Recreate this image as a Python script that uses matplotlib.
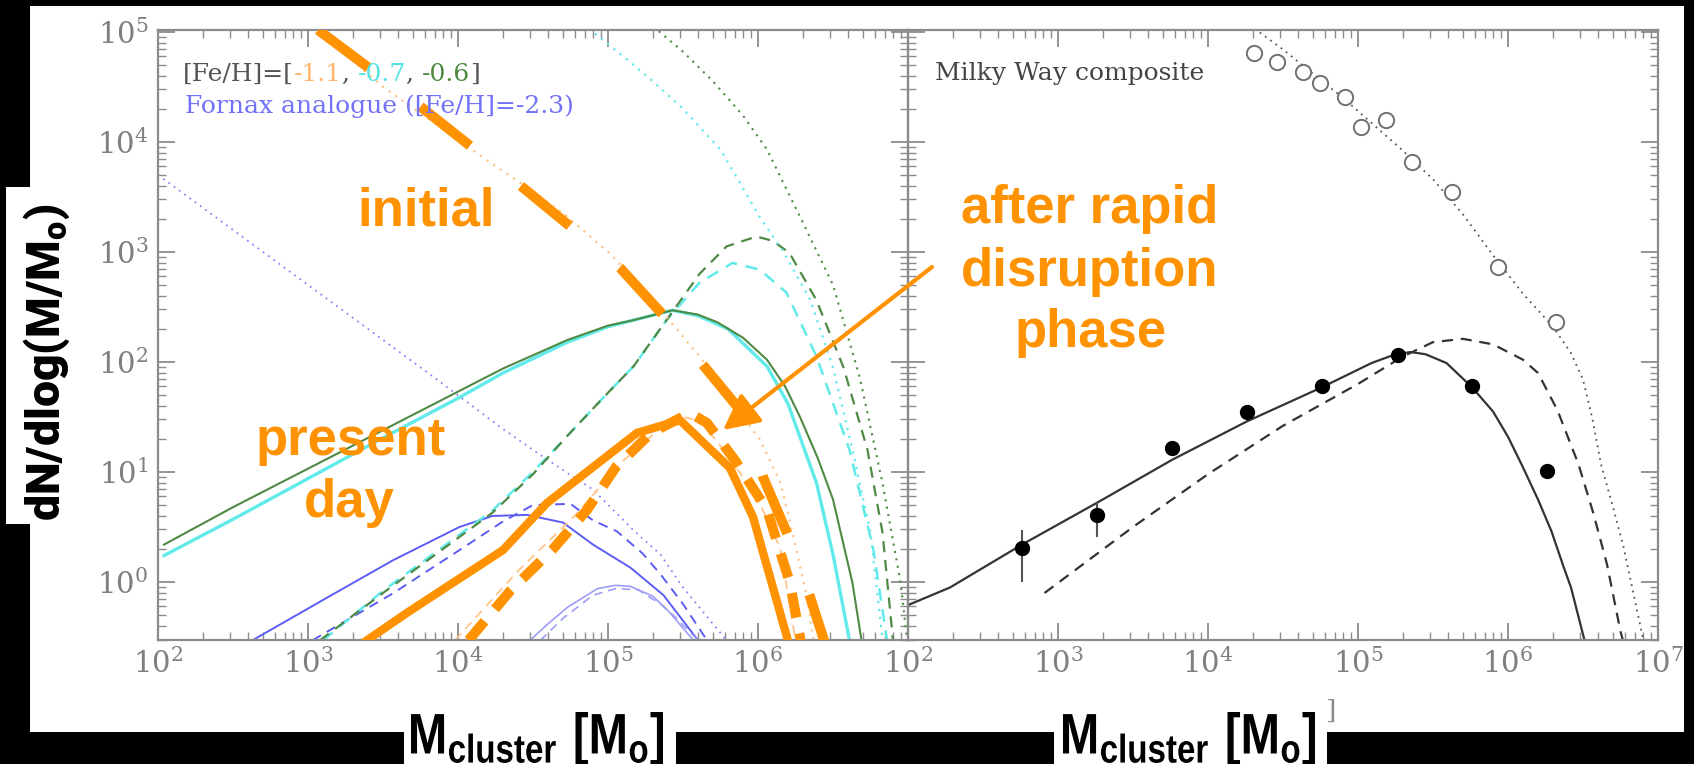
import numpy as np
import matplotlib
matplotlib.use("Agg")
import matplotlib.pyplot as plt
from matplotlib.patches import Rectangle, FancyArrowPatch, PathPatch
from matplotlib.ticker import FixedLocator, FixedFormatter, LogLocator, NullFormatter
from matplotlib.textpath import TextPath
from matplotlib.font_manager import FontProperties
from matplotlib.transforms import Affine2D, IdentityTransform

W, H = 1694, 764

plt.rcParams["font.family"] = "DejaVu Serif"
plt.rcParams["mathtext.fontset"] = "dejavuserif"
plt.rcParams["mathtext.bf"] = "Roboto:black"
plt.rcParams["mathtext.sf"] = "Liberation Sans:bold"

# ---------------------------------------------------------------- data
# all curves given as (log10 M, log10 dN/dlogM)

# [Fe/H] = -0.6 (green)
green_solid_logm = [2.04, 2.5, 3.0, 3.5, 4.0, 4.3, 4.73, 5.0, 5.17, 5.43, 5.6, 5.73, 5.9, 6.06, 6.18, 6.28, 6.4, 6.5, 6.63, 6.69, 6.72]
green_solid_logn = [0.34, 0.68, 1.03, 1.38, 1.73, 1.94, 2.2, 2.33, 2.38, 2.47, 2.43, 2.36, 2.22, 2.02, 1.78, 1.5, 1.12, 0.75, -0.01, -0.53, -0.8]
green_dash_logm = [3.08, 3.5, 4.0, 4.23, 4.5, 4.73, 5.0, 5.17, 5.39, 5.61, 5.79, 5.99, 6.1, 6.21, 6.39, 6.57, 6.73, 6.83, 6.9, 6.93]
green_dash_logn = [-0.53, -0.1, 0.4, 0.63, 0.98, 1.33, 1.72, 1.96, 2.38, 2.8, 3.05, 3.14, 3.1, 2.99, 2.56, 1.95, 1.2, 0.45, -0.53, -0.8]
green_dot_logm = [5.3, 5.5, 5.7, 5.9, 6.06, 6.28, 6.5, 6.68, 6.83, 6.95, 7.0]
green_dot_logn = [5.05, 4.82, 4.55, 4.24, 3.93, 3.32, 2.7, 1.85, 0.9, 0.0, -0.6]

# [Fe/H] = -0.7 (cyan)
cyan_solid_logm = [2.04, 2.5, 3.0, 3.5, 4.0, 4.3, 4.73, 5.0, 5.17, 5.43, 5.6, 5.8, 6.06, 6.2, 6.39, 6.5, 6.61, 6.65]
cyan_solid_logn = [0.24, 0.57, 0.94, 1.31, 1.67, 1.9, 2.18, 2.32, 2.38, 2.47, 2.42, 2.3, 1.96, 1.62, 0.9, 0.25, -0.53, -0.8]
cyan_dash_logm = [3.1, 3.5, 4.0, 4.23, 4.5, 4.73, 5.0, 5.17, 5.39, 5.61, 5.83, 6.01, 6.19, 6.39, 6.61, 6.77, 6.86, 6.89]
cyan_dash_logn = [-0.53, -0.08, 0.42, 0.65, 1.0, 1.33, 1.72, 1.96, 2.38, 2.72, 2.9, 2.84, 2.63, 2.05, 1.2, 0.29, -0.53, -0.8]
cyan_dot_logm = [4.87, 5.1, 5.3, 5.5, 5.75, 6.01, 6.17, 6.35, 6.5, 6.63, 6.75, 6.83, 6.86]
cyan_dot_logn = [5.03, 4.78, 4.55, 4.3, 3.93, 3.32, 3.0, 2.56, 1.95, 1.2, 0.45, -0.53, -0.8]

# [Fe/H] = -1.1 (orange)
orange_dot_logm = [3.05, 3.5, 4.0, 4.26, 4.5, 4.73, 5.0, 5.2, 5.39, 5.61, 5.83, 6.01, 6.15, 6.23, 6.33, 6.37, 6.4]
orange_dot_logn = [5.03, 4.5, 4.02, 3.77, 3.55, 3.32, 3.0, 2.72, 2.41, 2.05, 1.63, 1.3, 0.9, 0.45, -0.16, -0.53, -0.8]
orange_dash_logm = [3.98, 4.4, 4.77, 5.1, 5.35, 5.5, 5.62, 5.8, 6.0, 6.15, 6.25, 6.28]
orange_dash_logn = [-0.53, 0.1, 0.59, 1.1, 1.4, 1.5, 1.46, 1.15, 0.75, 0.3, -0.53, -0.8]

# Fornax analogue, [Fe/H] = -2.3 (blue)
blue_solid_logm = [2.63, 3.13, 3.57, 4.01, 4.23, 4.46, 4.7, 4.9, 5.15, 5.37, 5.6, 5.64]
blue_solid_logn = [-0.53, -0.14, 0.2, 0.5, 0.6, 0.61, 0.54, 0.34, 0.13, -0.12, -0.53, -0.6]
blue_dash_logm = [3.03, 3.57, 4.01, 4.3, 4.5, 4.75, 4.9, 5.06, 5.23, 5.35, 5.5, 5.66, 5.7]
blue_dash_logn = [-0.53, -0.1, 0.29, 0.55, 0.7, 0.71, 0.56, 0.46, 0.26, 0.07, -0.2, -0.53, -0.6]
blue_dot_logm = [2.0, 2.5, 3.0, 3.5, 3.86, 4.28, 4.5, 4.73, 4.9, 5.17, 5.35, 5.5, 5.79, 5.83]
blue_dot_logn = [3.7, 3.2, 2.7, 2.2, 1.84, 1.41, 1.2, 0.99, 0.84, 0.47, 0.25, -0.05, -0.53, -0.6]
hump_solid_logm = [4.48, 4.6, 4.73, 4.93, 5.05, 5.15, 5.3, 5.4, 5.57, 5.6]
hump_solid_logn = [-0.53, -0.38, -0.23, -0.06, -0.03, -0.04, -0.13, -0.26, -0.53, -0.6]
hump_dash_logm = [4.55, 4.7, 4.9, 5.05, 5.2, 5.35, 5.45, 5.6, 5.63]
hump_dash_logn = [-0.53, -0.33, -0.12, -0.06, -0.07, -0.2, -0.32, -0.53, -0.6]

# hand-traced highlight curves
initial_logm = [3.067, 3.753, 4.427, 4.76, 5.08, 5.367, 5.633, 5.88, 6.033, 6.193, 6.347, 6.433, 6.48]
initial_logn = [5.018, 4.318, 3.591, 3.218, 2.855, 2.427, 1.973, 1.564, 0.955, 0.445, -0.136, -0.5, -0.71]
present_logm = [3.393, 3.66, 4.3, 4.593, 5.193, 5.48, 5.813, 5.967, 6.193, 6.22]
present_logn = [-0.53, -0.28, 0.29, 0.718, 1.355, 1.47, 1.036, 0.59, -0.5, -0.65]
rapid_logm = [4.07, 4.353, 4.627, 4.86, 5.053, 5.287, 5.547, 5.66, 5.85, 6.06, 6.213, 6.28, 6.3]
rapid_logn = [-0.53, -0.073, 0.29, 0.655, 1.045, 1.355, 1.536, 1.445, 1.1, 0.655, -0.009, -0.5, -0.65]

# Milky Way composite
mw_solid_logm = [2.0, 2.28, 2.76, 3.26, 3.76, 4.26, 4.76, 5.09, 5.25, 5.35, 5.45, 5.59, 5.76, 5.9, 6.0, 6.09, 6.2, 6.29, 6.37, 6.42, 6.51, 6.54]
mw_solid_logn = [-0.21, -0.05, 0.34, 0.72, 1.11, 1.46, 1.77, 1.99, 2.07, 2.09, 2.07, 1.99, 1.77, 1.55, 1.32, 1.07, 0.75, 0.46, 0.14, -0.05, -0.53, -0.7]
mw_dash_logm = [2.91, 3.5, 4.0, 4.5, 5.0, 5.3, 5.5, 5.7, 5.9, 6.1, 6.2, 6.33, 6.47, 6.57, 6.66, 6.75, 6.78]
mw_dash_logn = [-0.1, 0.5, 0.98, 1.42, 1.8, 2.05, 2.18, 2.21, 2.16, 2.02, 1.9, 1.56, 1.07, 0.62, 0.16, -0.45, -0.6]
mw_dot_logm = [4.31, 4.5, 4.7, 4.9, 5.1, 5.3, 5.5, 5.7, 5.9, 6.1, 6.3, 6.42, 6.5, 6.56, 6.62, 6.7, 6.77, 6.89, 6.93]
mw_dot_logn = [5.03, 4.84, 4.62, 4.4, 4.16, 3.92, 3.66, 3.34, 2.97, 2.62, 2.32, 2.08, 1.84, 1.5, 1.07, 0.68, 0.32, -0.45, -0.7]
mw_open_logm = [4.309, 4.461, 4.63, 4.749, 4.911, 5.019, 5.187, 5.363, 5.626, 5.93, 6.318]
mw_open_logn = [4.809, 4.727, 4.636, 4.536, 4.409, 4.136, 4.2, 3.818, 3.545, 2.864, 2.364]
mw_filled_logm = [2.757, 3.263, 3.763, 4.259, 4.759, 5.265, 5.761, 6.26]
mw_filled_logn = [0.306, 0.609, 1.215, 1.548, 1.782, 2.064, 1.782, 1.009]
mw_filled_lo = [0.0, 0.409, 1.215, 1.548, 1.782, 2.064, 1.782, 1.009]
mw_filled_hi = [0.473, 0.718, 1.215, 1.548, 1.782, 2.064, 1.782, 1.009]

x_ticks = [1e2, 1e3, 1e4, 1e5, 1e6, 1e7]
x_labels_left = [r"$\mathdefault{10^{2}}$", r"$\mathdefault{10^{3}}$", r"$\mathdefault{10^{4}}$",
                 r"$\mathdefault{10^{5}}$", r"$\mathdefault{10^{6}}$", ""]
x_labels_right = [r"$\mathdefault{10^{2}}$", r"$\mathdefault{10^{3}}$", r"$\mathdefault{10^{4}}$",
                  r"$\mathdefault{10^{5}}$", r"$\mathdefault{10^{6}}$", r"$\mathdefault{10^{7}}$"]
y_ticks = [1e0, 1e1, 1e2, 1e3, 1e4, 1e5]
y_labels = [r"$\mathdefault{10^{0}}$", r"$\mathdefault{10^{1}}$", r"$\mathdefault{10^{2}}$",
            r"$\mathdefault{10^{3}}$", r"$\mathdefault{10^{4}}$", r"$\mathdefault{10^{5}}$"]

# ---------------------------------------------------------------- style
ORANGE = "#ff9200"
GREEN = "#4f8a45"
CYAN = "#62eaea"
LORANGE = "#ffc48a"
BLUE = "#5c5cf5"
LBLUE = "#9d9dfa"
GRAYAX = "#8c8c8c"
DASH = (0, (5, 3.5))
DOT = (0, (1, 2.6))


def fx(x):
    return x / W


def fy(y):
    return 1 - y / H


def arr(v):
    return 10 ** np.asarray(v, dtype=float)


fig = plt.figure(figsize=(W / 100, H / 100), dpi=100, facecolor="black")

# page and label panels
for (x0, y0, x1, y1) in [(30, 6, 1684, 732), (6, 187, 46, 524), (404, 700, 676, 764), (1054, 700, 1327, 764)]:
    fig.patches.append(Rectangle((fx(x0), fy(y1)), (x1 - x0) / W, (y1 - y0) / H,
                                 transform=fig.transFigure, facecolor="white",
                                 edgecolor="none", zorder=-5))

ax1 = fig.add_axes([fx(158), fy(640), 750 / W, 610 / H])
ax2 = fig.add_axes([fx(908), fy(640), 750 / W, 610 / H])

for ax, xl in ((ax1, x_labels_left), (ax2, x_labels_right)):
    ax.set_facecolor("none")
    ax.set_xscale("log")
    ax.set_yscale("log")
    ax.set_xlim(1e2, 1e7)
    ax.set_ylim(0.297, 1.04e5)
    for s in ax.spines.values():
        s.set_color(GRAYAX)
        s.set_linewidth(1.6)
    ax.xaxis.set_major_locator(FixedLocator(x_ticks))
    ax.xaxis.set_major_formatter(FixedFormatter(xl))
    ax.xaxis.set_minor_locator(LogLocator(base=10, subs=range(2, 10), numticks=30))
    ax.xaxis.set_minor_formatter(NullFormatter())
    ax.yaxis.set_major_locator(FixedLocator(y_ticks))
    ax.yaxis.set_major_formatter(FixedFormatter(y_labels))
    ax.yaxis.set_minor_locator(LogLocator(base=10, subs=range(2, 10), numticks=30))
    ax.yaxis.set_minor_formatter(NullFormatter())
    ax.tick_params(which="both", direction="in", top=True, right=True,
                   color=GRAYAX, labelcolor="#7f7f7f", labelsize=21)
    ax.tick_params(which="major", length=12, width=1.3)
    ax.tick_params(which="minor", length=6, width=1.0)
    ax.tick_params(axis="x", pad=6)
    ax.tick_params(axis="y", pad=7)

ax2.tick_params(axis="y", labelleft=False)

# ---- left panel curves
ax1.plot(arr(blue_dot_logm), arr(blue_dot_logn), color="#8585fa", lw=1.3, ls=DOT)
ax1.plot(arr(blue_solid_logm), arr(blue_solid_logn), color=BLUE, lw=1.4)
ax1.plot(arr(blue_dash_logm), arr(blue_dash_logn), color=BLUE, lw=1.4, ls=DASH)
ax1.plot(arr(hump_solid_logm), arr(hump_solid_logn), color=LBLUE, lw=1.2)
ax1.plot(arr(hump_dash_logm), arr(hump_dash_logn), color=LBLUE, lw=1.2, ls=DASH)

ax1.plot(arr(cyan_solid_logm), arr(cyan_solid_logn), color=CYAN, lw=2.4)
ax1.plot(arr(green_solid_logm), arr(green_solid_logn), color=GREEN, lw=1.5)
ax1.plot(arr(cyan_dash_logm), arr(cyan_dash_logn), color=CYAN, lw=1.8, ls=DASH)
ax1.plot(arr(green_dash_logm), arr(green_dash_logn), color=GREEN, lw=1.6, ls=DASH)
ax1.plot(arr(cyan_dot_logm), arr(cyan_dot_logn), color=CYAN, lw=1.6, ls=DOT)
ax1.plot(arr(green_dot_logm), arr(green_dot_logn), color=GREEN, lw=1.5, ls=DOT)
ax1.plot(arr(orange_dot_logm), arr(orange_dot_logn), color=LORANGE, lw=1.6, ls=DOT)
ax1.plot(arr(orange_dash_logm), arr(orange_dash_logn), color=LORANGE, lw=1.3, ls=DASH)

# highlighted tracks
ax1.plot(arr(initial_logm), arr(initial_logn), color=ORANGE, lw=7.2,
         dashes=(6.3, 6.5), solid_capstyle="butt", dash_capstyle="butt", zorder=5)
ax1.plot(arr(present_logm), arr(present_logn), color=ORANGE, lw=6,
         solid_joinstyle="miter", zorder=5)
ax1.plot(arr(rapid_logm), arr(rapid_logn), color=ORANGE, lw=7.2,
         dashes=(2.5, 1.6), dash_capstyle="butt", zorder=5)

# ---- right panel
ax2.plot(arr(mw_dot_logm), arr(mw_dot_logn), color="#555555", lw=1.3, ls=DOT)
ax2.plot(arr(mw_dash_logm), arr(mw_dash_logn), color="#333333", lw=1.6, ls=DASH)
ax2.plot(arr(mw_solid_logm), arr(mw_solid_logn), color="#333333", lw=1.6)
ax2.plot(arr(mw_open_logm), arr(mw_open_logn), ls="none", marker="o", ms=11,
         mfc="white", mec="#707070", mew=1.4)
fm = arr(mw_filled_logm)
fn = arr(mw_filled_logn)
ax2.errorbar(fm, fn, yerr=[fn - arr(mw_filled_lo), arr(mw_filled_hi) - fn],
             fmt="o", ms=10, color="black", ecolor="#555555", elinewidth=1.5,
             capsize=0, zorder=4)

# ---- panel captions
renderer = fig.canvas.get_renderer()


def text_row(x_px, y_px, pieces, **kw):
    x = x_px
    for s, c in pieces:
        t = fig.text(fx(x), fy(y_px), s, color=c, ha="left", va="baseline", **kw)
        x += t.get_window_extent(renderer).width


cap = dict(family="DejaVu Serif", fontsize=18)
text_row(183, 81, [("[Fe/H]=[", "#555555"), ("-1.1", "#ffb56a"), (", ", "#555555"),
                   ("-0.7", "#55e2e2"), (", ", "#555555"), ("-0.6", "#4d8a3d"),
                   ("]", "#555555")], **cap)
text_row(185, 113, [("Fornax analogue ([Fe/H]=-2.3)", "#7272f8")], **cap)
text_row(935, 80, [("Milky Way composite", "#444444")], **cap)

# ---- annotations
ann = dict(family="Liberation Sans", fontweight="bold", fontsize=38, color=ORANGE,
           ha="center", va="baseline", zorder=7)
fig.text(fx(426), fy(226), "initial", **ann)
fig.text(fx(351), fy(455), "present", **ann)
fig.text(fx(349), fy(517), "day", **ann)
fig.text(fx(1090), fy(223), "after rapid", **ann)
fig.text(fx(1090), fy(286), "disruption", **ann)
fig.text(fx(1091), fy(347), "phase", **ann)

fig.add_artist(FancyArrowPatch(posA=(fx(932), fy(267)), posB=(fx(723), fy(430)),
                               transform=fig.transFigure,
                               arrowstyle="-|>,head_length=1.1,head_width=0.55",
                               mutation_scale=20, lw=3, color=ORANGE,
                               shrinkA=0, shrinkB=0, zorder=6))

# ---- axis titles
fig.text(fx(47), fy(362), r"$\mathbf{dN/dlog(M/M_o)}$", rotation=90, ha="center",
         va="center", fontsize=33.5, color="black", math_fontfamily="custom")

# condensed bold x titles drawn as outlines, squeezed horizontally
xprop = FontProperties(family="Liberation Sans", weight="bold", math_fontfamily="custom")
xpath = TextPath((0, 0), r"$\mathsf{M_{cluster}\ [M_o]}$", size=100, prop=xprop)
xext = xpath.get_extents()
ky = 41 / 71.6
for left in (411, 1063):
    kx = 252 / xext.width
    tr = (Affine2D().translate(-xext.x0, -xext.y1).scale(kx, ky)
          .translate(left, H - 712) + IdentityTransform())
    fig.add_artist(PathPatch(xpath, transform=tr, facecolor="black",
                             edgecolor="none", zorder=4))

fig.text(fx(1331), fy(711), "]", ha="center", va="center", fontsize=19,
         color="#8a8a8a", family="DejaVu Serif")

fig.savefig("out.png", dpi=100, facecolor="black")
